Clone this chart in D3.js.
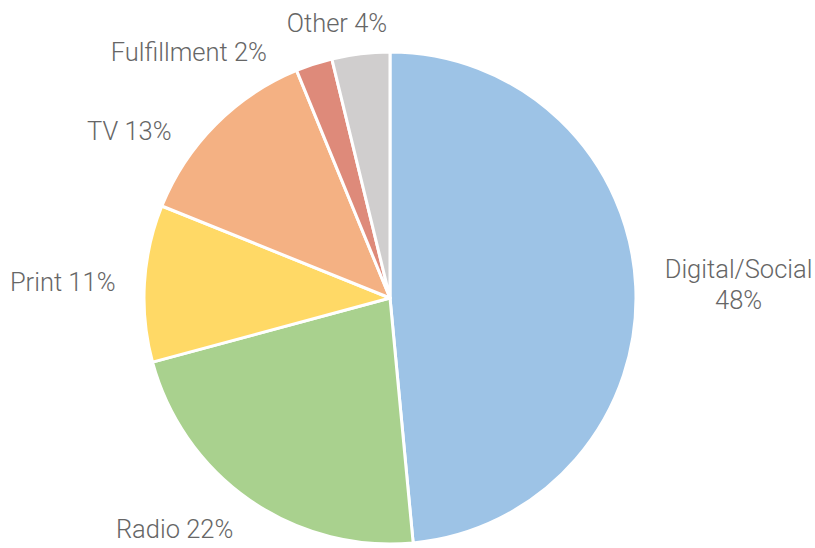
<!DOCTYPE html>
<html><head><meta charset="utf-8">
<script src="https://cdn.jsdelivr.net/npm/d3@7"></script>
<style>body{margin:0;background:#fff}text{font-family:Roboto,sans-serif;font-weight:300;fill:#666}</style>
</head><body><svg id="c" width="815" height="548"></svg>
<script>
const categories = ["Digital/Social","Radio","Print","TV","Fulfillment","Other"];
const values = [48.5,22.3,10.3,12.7,2.4,3.8];
const labelPct = [48,22,11,13,2,4];
const colors = ["#9dc3e6","#a9d18e","#ffd966","#f4b183","#de8a7a","#d0cece"];

const W=815,H=548,cx=390,cy=298,r=246,labelR=275,minGap=26*Math.PI/180,maxAngle=2*Math.PI-0.6*Math.PI/180;
const svg=d3.select("#c");
const g=svg.append("g").attr("transform",`translate(${cx},${cy})`);
const data=categories.map((c,i)=>({name:c,value:values[i],pct:labelPct[i],color:colors[i]}));
const pie=d3.pie().value(d=>d.value).sort(null);
const arcs=pie(data);
const arc=d3.arc().innerRadius(0).outerRadius(r);
g.selectAll("path").data(arcs).join("path").attr("d",arc)
 .attr("fill",d=>d.data.color).attr("stroke","#fff").attr("stroke-width",3).attr("stroke-linejoin","round");

// label angles with simple relaxation
arcs.forEach(a=>a.la=(a.startAngle+a.endAngle)/2);
for(let it=0;it<300;it++){
  for(let i=1;i<arcs.length;i++){
    const gap=arcs[i].la-arcs[i-1].la;
    if(gap<minGap){const d=(minGap-gap)/2;arcs[i].la+=d;arcs[i-1].la-=d;}
  }
  const last=arcs[arcs.length-1];
  if(last.la>maxAngle) last.la=maxAngle;
}
arcs.forEach(a=>{
  let x=labelR*Math.sin(a.la);
  const y=-labelR*Math.cos(a.la)+(Math.cos(a.la)<-0.5?5:0);
  const left=a.la>Math.PI;
  const t=g.append("text").attr("font-size",25.5);
  const full=`${a.data.name} ${a.data.pct}%`;
  t.text(full);
  const w=t.node().getComputedTextLength();
  if(!left && cx+x+w>W-5){
    t.text(null);
    const l1=t.append("tspan").text(a.data.name);
    const w1=l1.node().getComputedTextLength();
    if(cx+x+w1>W-2) x=W-2-cx-w1;
    const lh=31;
    l1.attr("x",x+w1/2).attr("y",y-lh/2).attr("dy","0.35em");
    t.append("tspan").text(`${a.data.pct}%`).attr("x",x+w1/2).attr("y",y+lh/2).attr("dy","0.35em");
    t.attr("text-anchor","middle");
  } else {
    t.attr("x",x).attr("y",y).attr("dy","0.35em").attr("text-anchor",left?"end":"start");
  }
});
</script></body></html>
